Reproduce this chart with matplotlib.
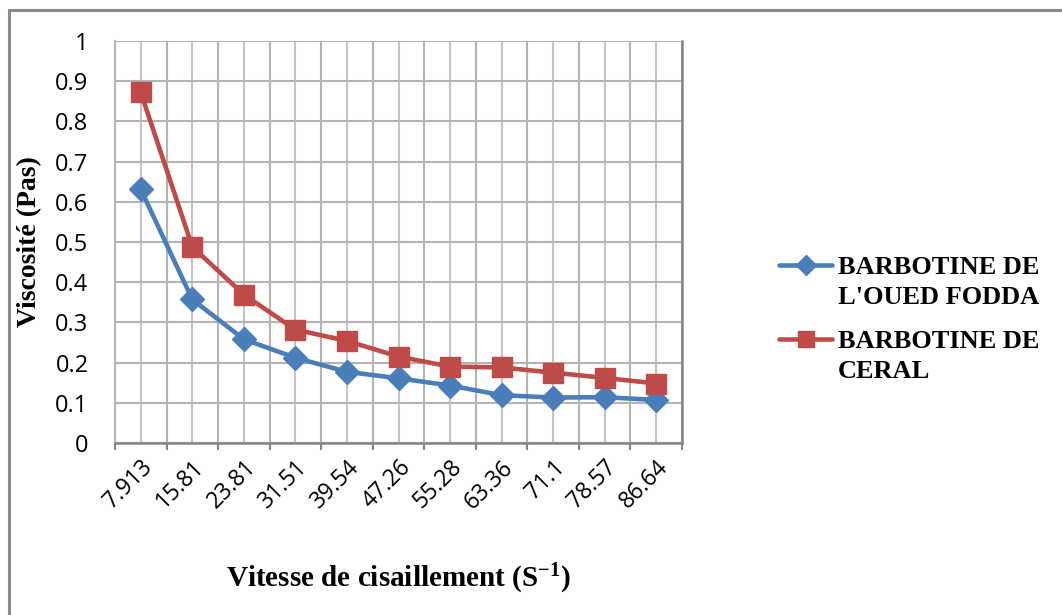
import matplotlib
matplotlib.use("Agg")
import matplotlib.pyplot as plt
from matplotlib.patches import Rectangle
from matplotlib.lines import Line2D
from matplotlib.ticker import FixedLocator, NullFormatter, FixedFormatter

categories = ["7.913", "15.81", "23.81", "31.51", "39.54", "47.26",
              "55.28", "63.36", "71.1", "78.57", "86.64"]
oued_fodda = [0.631, 0.357, 0.258, 0.212, 0.177, 0.161, 0.143, 0.119, 0.113, 0.114, 0.107]
ceral = [0.872, 0.488, 0.369, 0.282, 0.254, 0.215, 0.190, 0.188, 0.175, 0.162, 0.148]
yticks = [0, 0.1, 0.2, 0.3, 0.4, 0.5, 0.6, 0.7, 0.8, 0.9, 1]
ytick_labels = ["0", "0.1", "0.2", "0.3", "0.4", "0.5", "0.6", "0.7", "0.8", "0.9", "1"]
series_labels = ["BARBOTINE DE\nL'OUED FODDA", "BARBOTINE DE\nCERAL"]

plt.rcParams["mathtext.fontset"] = "custom"
plt.rcParams["mathtext.rm"] = "Liberation Serif:bold"
plt.rcParams["mathtext.bf"] = "Liberation Serif:bold"
plt.rcParams["mathtext.it"] = "Liberation Serif:bold"

W, H = 1062, 615
fig = plt.figure(figsize=(W / 100, H / 100), dpi=100)
fig.patch.set_facecolor("white")

# outer chart border
fig.patches.append(Rectangle((9 / W, -0.05), 1.2, 1 - 10 / H + 0.05, transform=fig.transFigure,
                             fill=False, edgecolor="#8c8c8c", linewidth=2.2, zorder=0))

ax = fig.add_axes([115 / W, 1 - 443 / H, (682 - 115) / W, (443 - 41) / H])
x = list(range(len(categories)))

ax.set_xlim(-0.5, len(categories) - 0.5)
ax.set_ylim(0, 1)

bounds = [i - 0.5 for i in range(len(categories) + 1)]
ax.xaxis.set_major_locator(FixedLocator(bounds))
ax.xaxis.set_major_formatter(NullFormatter())
ax.xaxis.set_minor_locator(FixedLocator(x))
ax.xaxis.set_minor_formatter(FixedFormatter(categories))
ax.yaxis.set_major_locator(FixedLocator(yticks))
ax.set_yticklabels(ytick_labels)

ax.grid(True, which="major", axis="both", color="#b4b4b4", linewidth=1.5, zorder=0)
ax.grid(True, which="minor", axis="x", color="#c4c4c4", linewidth=1.5, zorder=0)
ax.set_axisbelow(True)

ax.spines["top"].set_visible(False)
ax.spines["left"].set_color("#b4b4b4")
ax.spines["left"].set_linewidth(1.5)
ax.spines["right"].set_color("#868686")
ax.spines["right"].set_linewidth(1.8)
ax.spines["bottom"].set_color("#868686")
ax.spines["bottom"].set_linewidth(1.8)

ax.tick_params(axis="x", which="major", length=5, width=1.5, color="#868686", direction="out")
ax.tick_params(axis="x", which="minor", length=0, pad=9, labelsize=16.5)
ax.tick_params(axis="y", which="major", length=0, pad=19, labelsize=17)
for lbl in ax.get_xticklabels(minor=True):
    lbl.set_rotation(45)
    lbl.set_ha("right")
    lbl.set_va("top")
    lbl.set_rotation_mode("anchor")
    lbl.set_fontfamily("Open Sans")
for lbl in ax.get_yticklabels():
    lbl.set_fontfamily("Open Sans")

blue = "#4A7EBB"
red = "#BE4B48"
ax.plot(x, oued_fodda, color=blue, linewidth=3.3, marker="D", markersize=12,
        zorder=3, solid_capstyle="round")
ax.plot(x, ceral, color=red, linewidth=3.3, marker="s", markersize=14,
        zorder=3, solid_capstyle="round")

ax.set_xlabel("Vitesse de cisaillement (S$^{-1}$)", fontfamily="Liberation Serif",
              fontweight="bold", fontsize=21)
ax.xaxis.set_label_coords(0.5, -0.296)
ax.set_ylabel("Viscosité (Pas)", fontfamily="Liberation Serif", fontweight="bold",
              fontsize=20)
ax.yaxis.set_label_coords(-(115 - 42) / 567, 0.5)

# legend drawn with handles aligned to the first text line (as in the original)
def fx(px):
    return px / W

def fy(py):
    return 1 - py / H

leg_rows = [(265, blue, "D", 12), (339, red, "s", 14)]
for (ry, col, mk, ms), lab in zip(leg_rows, series_labels):
    fig.add_artist(Line2D([fx(779), fx(832)], [fy(ry), fy(ry)], transform=fig.transFigure,
                          color=col, linewidth=3.3, solid_capstyle="round"))
    fig.add_artist(Line2D([fx(805.5)], [fy(ry)], transform=fig.transFigure,
                          color=col, marker=mk, markersize=ms * 0.85, linestyle="none"))
    fig.text(fx(838), fy(ry - 9), lab, ha="left", va="top", fontfamily="Liberation Serif",
             fontweight="bold", fontsize=19, linespacing=1.38)

fig.savefig("out.png", dpi=100, facecolor="white")
